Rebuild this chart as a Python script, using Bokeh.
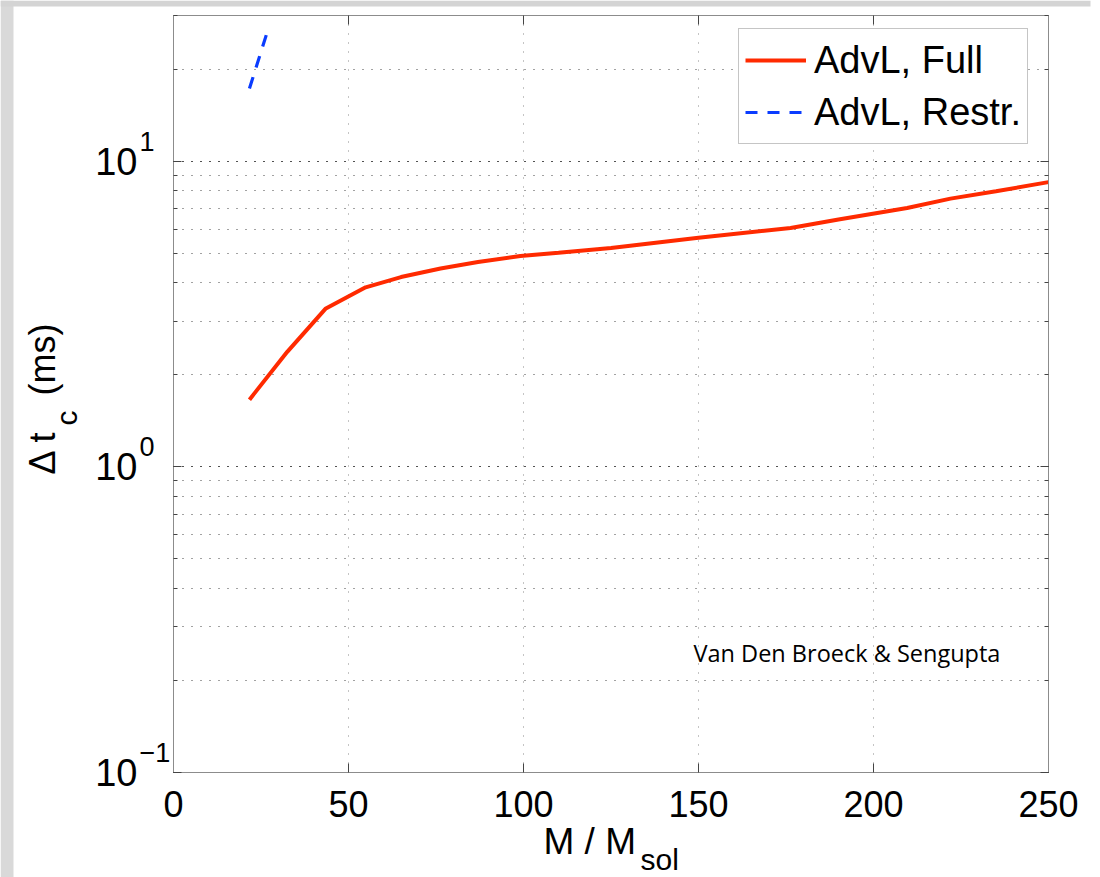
from bokeh.plotting import figure
from bokeh.models import (Label, LogAxis, LinearAxis, LogTicker, FixedTicker,
                          Range1d, BoxAnnotation, Grid)
from bokeh.embed import file_html
from bokeh.resources import INLINE
import math

# ---- data ----
mass_full = [21.7, 32.5, 43.4, 54.9, 65.0, 76.3, 87.0, 99.1, 110.0, 125.0,
             150.0, 176.3, 190.0, 209.6, 222.0, 235.0, 250.0]
dt_full = [1.66, 2.38, 3.29, 3.87, 4.18, 4.46, 4.68, 4.90, 5.02, 5.20,
           5.62, 6.05, 6.45, 7.03, 7.55, 7.98, 8.55]
mass_restr = [21.7, 27.1]
dt_restr = [17.3, 27.2]

x_ticks = [0, 50, 100, 150, 200, 250]
x_grid = [50, 100, 150, 200]
x_lim = (0, 250)
y_lim = (0.1, 30)
y_decades = [0.1, 1, 10]
y_exponents = ["\u22121", "0", "1"]

FONT = "Liberation Sans"
W, H = 1100, 877
# plot box in canvas pixels (from the reference)
BOX_L, BOX_R, BOX_T, BOX_B = 173, 1048, 15, 772
PX_PER_X = (BOX_R - BOX_L) / (x_lim[1] - x_lim[0])
PX_PER_DEC = (BOX_B - BOX_T) / (math.log10(y_lim[1]) - math.log10(y_lim[0]))


def xd(px):
    """canvas pixel -> data x (for placing texts)"""
    return x_lim[0] + (px - BOX_L) / PX_PER_X


def yd(py):
    """canvas pixel -> data y on the log axis (for placing texts)"""
    return 10 ** (math.log10(y_lim[0]) + (BOX_B - py) / PX_PER_DEC)


p = figure(width=W, height=H, x_range=Range1d(xd(0), xd(W)),
           y_range=Range1d(yd(H), yd(0)), y_axis_type="log",
           x_axis_location=None, y_axis_location=None,
           output_backend="svg", toolbar_location=None,
           min_border=0)
p.background_fill_color = "white"
p.border_fill_color = "white"
p.outline_line_color = None
# drop the default full-canvas grids
p.center = [r for r in p.center if not isinstance(r, Grid)]

# slide-like grey strips
p.add_layout(BoxAnnotation(left=xd(0), right=xd(13), bottom=yd(H),
                           top=yd(0), fill_color="#d9d9d9", fill_alpha=1,
                           line_color=None, level="underlay"))
p.add_layout(BoxAnnotation(left=xd(0), right=xd(1090), bottom=yd(6),
                           top=yd(0), fill_color="#d4d4d4", fill_alpha=1,
                           line_color=None, level="underlay"))

# ---- grids ----
has_cb = "cross_bounds" in Grid.properties()
xg = Grid(dimension=0, ticker=FixedTicker(ticks=x_grid),
          grid_line_color="#8a8a8a", grid_line_dash="1 8",
          grid_line_width=1)
yg = Grid(dimension=1, ticker=LogTicker(mantissas=[1], num_minor_ticks=10),
          bounds=y_lim, grid_line_color="#333333", grid_line_dash="1 8",
          grid_line_width=1, minor_grid_line_color="#444444",
          minor_grid_line_dash="1 8", minor_grid_line_width=1)
if has_cb:
    xg.cross_bounds = y_lim
    yg.cross_bounds = x_lim
    p.add_layout(xg)
    p.add_layout(yg)
else:
    gy = [m * d for d in y_decades for m in range(1, 10) if m * d <= y_lim[1]]
    gy.append(y_lim[1])
    p.segment(x0=[x_lim[0]] * len(gy), x1=[x_lim[1]] * len(gy), y0=gy, y1=gy,
              line_color="#3a3a3a", line_dash="1 8", line_width=1)
    p.segment(x0=x_grid, x1=x_grid, y0=[y_lim[0]] * len(x_grid),
              y1=[y_lim[1]] * len(x_grid), line_color="#8a8a8a",
              line_dash="1 8", line_width=1)

# ---- lines ----
p.line(mass_full, dt_full, line_color="#ff2a00", line_width=4,
       legend_label="AdvL, Full")
p.line(mass_restr, dt_restr, line_color="#0a3cff", line_width=3.2,
       line_dash="12 10", legend_label="AdvL, Restr.")

# ---- axes (box) ----
AX = "#8c8c8c"
TK = "#444444"
bottom = LinearAxis(fixed_location=y_lim[0], bounds=x_lim,
                    ticker=FixedTicker(ticks=x_ticks),
                    major_tick_in=9, major_tick_out=0,
                    minor_tick_line_color=None, major_tick_line_color=TK,
                    axis_line_color=AX, major_label_text_font=FONT,
                    major_label_text_font_size="36px",
                    major_label_text_color="black",
                    major_label_standoff=18)
p.add_layout(bottom, "below")
top = LinearAxis(fixed_location=y_lim[1], bounds=x_lim,
                 ticker=FixedTicker(ticks=x_ticks),
                 major_tick_in=9, major_tick_out=0,
                 minor_tick_line_color=None, major_tick_line_color=TK,
                 axis_line_color=AX,
                 major_label_overrides={t: "" for t in x_ticks})
p.add_layout(top, "above")
left = LogAxis(fixed_location=x_lim[0], bounds=y_lim,
               ticker=LogTicker(mantissas=[1], num_minor_ticks=10),
               major_tick_in=8, major_tick_out=0, minor_tick_in=4,
               minor_tick_out=0, major_tick_line_color=TK,
               minor_tick_line_color=TK, axis_line_color=AX,
               major_label_overrides={v: "10" for v in y_decades},
               major_label_text_font=FONT, major_label_text_font_size="38px",
               major_label_text_color="black", major_label_standoff=36)
p.add_layout(left, "left")
right = LogAxis(fixed_location=x_lim[1], bounds=y_lim,
                ticker=LogTicker(mantissas=[1], num_minor_ticks=10),
                major_tick_in=8, major_tick_out=0, minor_tick_in=4,
                minor_tick_out=0, major_tick_line_color=TK,
                minor_tick_line_color=TK, axis_line_color=AX,
                major_label_overrides={v: "" for v in y_decades})
p.add_layout(right, "right")


def text(x, y, s, size, font=FONT, angle=0.0, y_offset=0):
    p.add_layout(Label(x=x, y=y, y_offset=y_offset, text=s, angle=angle,
                       text_font=font, text_font_size=size,
                       text_align="left", text_baseline="middle",
                       text_color="black"))


# ---- exponents of the y tick labels ----
for v, e in zip(y_decades, y_exponents):
    text(xd(139), v, e, "27px", y_offset=20)

# ---- axis titles ----
text(xd(543), yd(841), "M / M", "37px")
text(xd(640), yd(859), "sol", "30px")

text(xd(42), yd(474), "\u0394 t", "36px", angle=math.pi / 2)
text(xd(66), yd(425), "c", "30px", angle=math.pi / 2)
text(xd(42), yd(395), "(ms)", "36px", angle=math.pi / 2)

# ---- annotation ----
text(xd(693), yd(652), "Van Den Broeck & Sengupta", "23.5px",
     font="Open Sans")

# ---- legend ----
lg = p.legend[0]
lg.location = (738, H - 144)
lg.label_text_font = FONT
lg.label_text_font_size = "38px"
lg.label_text_color = "black"
lg.glyph_width = 61
lg.glyph_height = 50
lg.label_height = 50
lg.label_standoff = 8
lg.padding = 6
lg.spacing = 2
lg.margin = 0
lg.border_line_color = AX
lg.border_line_width = 1
lg.background_fill_color = "white"
lg.background_fill_alpha = 1

open("out.html", "w").write(file_html(p, INLINE))
